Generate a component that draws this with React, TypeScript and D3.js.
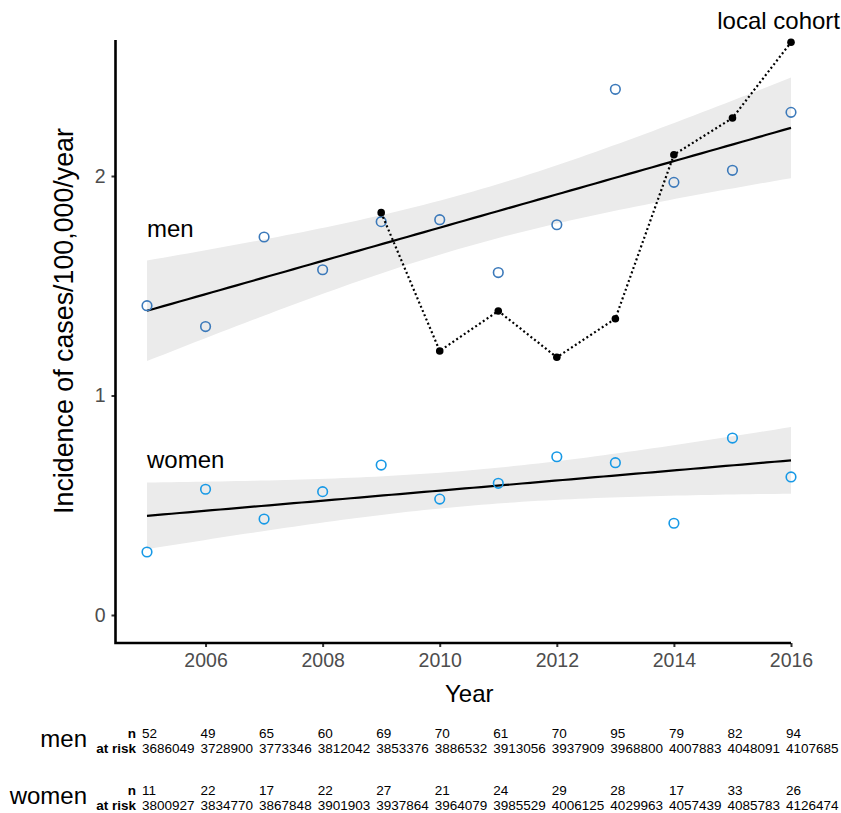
import * as d3 from "d3";
import { useRef, useEffect } from "react";

const years = [2005, 2006, 2007, 2008, 2009, 2010, 2011, 2012, 2013, 2014, 2015, 2016];
const menRate = [1.409, 1.314, 1.722, 1.573, 1.792, 1.801, 1.56, 1.778, 2.395, 1.971, 2.026, 2.29];
const womenRate = [0.287, 0.573, 0.437, 0.562, 0.683, 0.528, 0.6, 0.721, 0.694, 0.418, 0.806, 0.629];
const cohortYears = [2009, 2010, 2011, 2012, 2013, 2014, 2015, 2016];
const cohortRate = [1.833, 1.203, 1.385, 1.174, 1.35, 2.097, 2.264, 2.609];

const menN = [52, 49, 65, 60, 69, 70, 61, 70, 95, 79, 82, 94];
const menAtRisk = [3686049, 3728900, 3773346, 3812042, 3853376, 3886532, 3913056, 3937909, 3968800, 4007883, 4048091, 4107685];
const womenN = [11, 22, 17, 22, 27, 21, 24, 29, 28, 17, 33, 26];
const womenAtRisk = [3800927, 3834770, 3867848, 3901903, 3937864, 3964079, 3985529, 4006125, 4029963, 4057439, 4085783, 4126474];

const yTicks = [0, 1, 2];
const xTicks = [2006, 2008, 2010, 2012, 2014, 2016];

// linear fit with 95% confidence band, like geom_smooth(method = "lm")
const lmFit = (xs, ys) => {
  const n = xs.length;
  const mx = d3.mean(xs);
  const my = d3.mean(ys);
  const sxx = d3.sum(xs, (x) => (x - mx) ** 2);
  const slope = d3.sum(xs, (x, i) => (x - mx) * (ys[i] - my)) / sxx;
  const icpt = my - slope * mx;
  const rss = d3.sum(xs, (x, i) => (ys[i] - icpt - slope * x) ** 2);
  const s = Math.sqrt(rss / (n - 2));
  const t = 2.2281; // qt(0.975, 10)
  const grid = d3.range(80).map((i) => xs[0] + ((xs[n - 1] - xs[0]) * i) / 79);
  return grid.map((x) => {
    const fit = icpt + slope * x;
    const se = s * Math.sqrt(1 / n + (x - mx) ** 2 / sxx);
    return { x, fit, lo: fit - t * se, hi: fit + t * se };
  });
};

const App = () => {
  const container = useRef(null);

  useEffect(() => {
    createChart();
  });

  const createChart = () => {
    const node = container.current;
    const font = "'Liberation Sans', Arial, Helvetica, sans-serif";

    const svg = d3
      .select(node)
      .selectAll("svg")
      .data([0])
      .join("svg")
      .attr("width", 841)
      .attr("height", 813)
      .style("position", "absolute")
      .style("left", 0)
      .style("top", 0)
      .style("font-family", font);

    svg.selectAll("*").remove();

    const xScale = d3.scaleLinear().domain([2005, 2016]).range([147, 791]);
    const yScale = d3.scaleLinear().domain([0, 2]).range([615, 176]);

    const panel = { l: 115.5, r: 823, t: 40, b: 643 };

    const series = [
      { rate: menRate, color: "#3b79ba" },
      { rate: womenRate, color: "#1799e6" },
    ];

    // ribbons
    series.forEach((s) => {
      const fit = lmFit(years, s.rate);
      svg
        .append("path")
        .datum(fit)
        .attr("fill", "#ebebeb")
        .attr(
          "d",
          d3
            .area()
            .x((d) => xScale(d.x))
            .y0((d) => yScale(d.lo))
            .y1((d) => yScale(d.hi))
        );
      s.fit = fit;
    });

    // fit lines
    series.forEach((s) => {
      svg
        .append("path")
        .datum(s.fit)
        .attr("fill", "none")
        .attr("stroke", "black")
        .attr("stroke-width", 2.2)
        .attr(
          "d",
          d3
            .line()
            .x((d) => xScale(d.x))
            .y((d) => yScale(d.fit))
        );
    });

    // points
    series.forEach((s) => {
      svg
        .append("g")
        .selectAll("circle")
        .data(s.rate)
        .join("circle")
        .attr("cx", (d, i) => xScale(years[i]))
        .attr("cy", (d) => yScale(d))
        .attr("r", 4.8)
        .attr("fill", "none")
        .attr("stroke", s.color)
        .attr("stroke-width", 1.6);
    });

    // local cohort
    const cohort = cohortYears.map((y, i) => ({ year: y, val: cohortRate[i] }));
    svg
      .append("path")
      .datum(cohort)
      .attr("fill", "none")
      .attr("stroke", "black")
      .attr("stroke-width", 2.2)
      .attr("stroke-dasharray", "2,2.6")
      .attr(
        "d",
        d3
          .line()
          .x((d) => xScale(d.year))
          .y((d) => yScale(d.val))
      );
    svg
      .append("g")
      .selectAll("circle")
      .data(cohort)
      .join("circle")
      .attr("cx", (d) => xScale(d.year))
      .attr("cy", (d) => yScale(d.val))
      .attr("r", 3.8)
      .attr("fill", "black");

    // labels in plot
    svg.append("text").attr("x", 147).attr("y", 237).attr("font-size", 24).text("men");
    svg.append("text").attr("x", 147).attr("y", 468).attr("font-size", 24).text("women");
    svg
      .append("text")
      .attr("x", 840)
      .attr("y", 29)
      .attr("font-size", 24)
      .attr("text-anchor", "end")
      .text("local cohort");

    // axes
    const xaxis = d3.axisBottom(xScale).tickValues(xTicks).tickFormat(d3.format("d")).tickSize(4).tickPadding(6);
    const xaxisg = svg.append("g").attr("transform", `translate(0,${panel.b})`).call(xaxis);
    xaxisg.select(".domain").remove();
    xaxisg.selectAll(".tick line").attr("stroke", "#333").attr("stroke-width", 2);
    xaxisg
      .selectAll(".tick text")
      .attr("fill", "#4d4d4d")
      .attr("font-size", 19.5)
      .attr("font-family", font)
      .attr("dy", "0.71em");

    const yaxis = d3.axisLeft(yScale).tickValues(yTicks).tickFormat(d3.format("d")).tickSize(4).tickPadding(6);
    const yaxisg = svg.append("g").attr("transform", `translate(${panel.l},0)`).call(yaxis);
    yaxisg.select(".domain").remove();
    yaxisg.selectAll(".tick line").attr("stroke", "#333").attr("stroke-width", 2);
    yaxisg
      .selectAll(".tick text")
      .attr("fill", "#4d4d4d")
      .attr("font-size", 19.5)
      .attr("font-family", font);

    svg
      .append("path")
      .attr("d", `M${panel.l},${panel.t}V${panel.b}H${xScale(2016)}`)
      .attr("fill", "none")
      .attr("stroke", "black")
      .attr("stroke-width", 2.6);

    svg
      .append("text")
      .attr("x", (panel.l + panel.r) / 2)
      .attr("y", 702)
      .attr("font-size", 24)
      .attr("text-anchor", "middle")
      .text("Year");
    svg
      .append("text")
      .attr("transform", `translate(73,321) rotate(-90)`)
      .attr("font-size", 26.8)
      .attr("text-anchor", "middle")
      .text("Incidence of cases/100,000/year");

    // risk table
    const rows = [
      { label: "men", n: menN, risk: menAtRisk, base: 738 },
      { label: "women", n: womenN, risk: womenAtRisk, base: 795 },
    ];
    rows.forEach((r) => {
      const g = svg.append("g");
      g.append("text")
        .attr("x", 87)
        .attr("y", r.base + 9)
        .attr("font-size", 24)
        .attr("text-anchor", "end")
        .text(r.label);
      g.append("text")
        .attr("x", 136)
        .attr("y", r.base)
        .attr("font-size", 13.5)
        .attr("font-weight", "bold")
        .attr("text-anchor", "end")
        .text("n");
      g.append("text")
        .attr("x", 136)
        .attr("y", r.base + 15)
        .attr("font-size", 13.5)
        .attr("font-weight", "bold")
        .attr("text-anchor", "end")
        .text("at risk");
      g.selectAll(".nval")
        .data(r.n)
        .join("text")
        .attr("class", "nval")
        .attr("x", (d, i) => xScale(years[i]) - 5)
        .attr("y", r.base)
        .attr("font-size", 13.5)
        .text((d) => d);
      g.selectAll(".rval")
        .data(r.risk)
        .join("text")
        .attr("class", "rval")
        .attr("x", (d, i) => xScale(years[i]) - 5)
        .attr("y", r.base + 15)
        .attr("font-size", 13.5)
        .text((d) => d);
    });

    return;
  };

  return <div ref={container}></div>;
};

export default App;
